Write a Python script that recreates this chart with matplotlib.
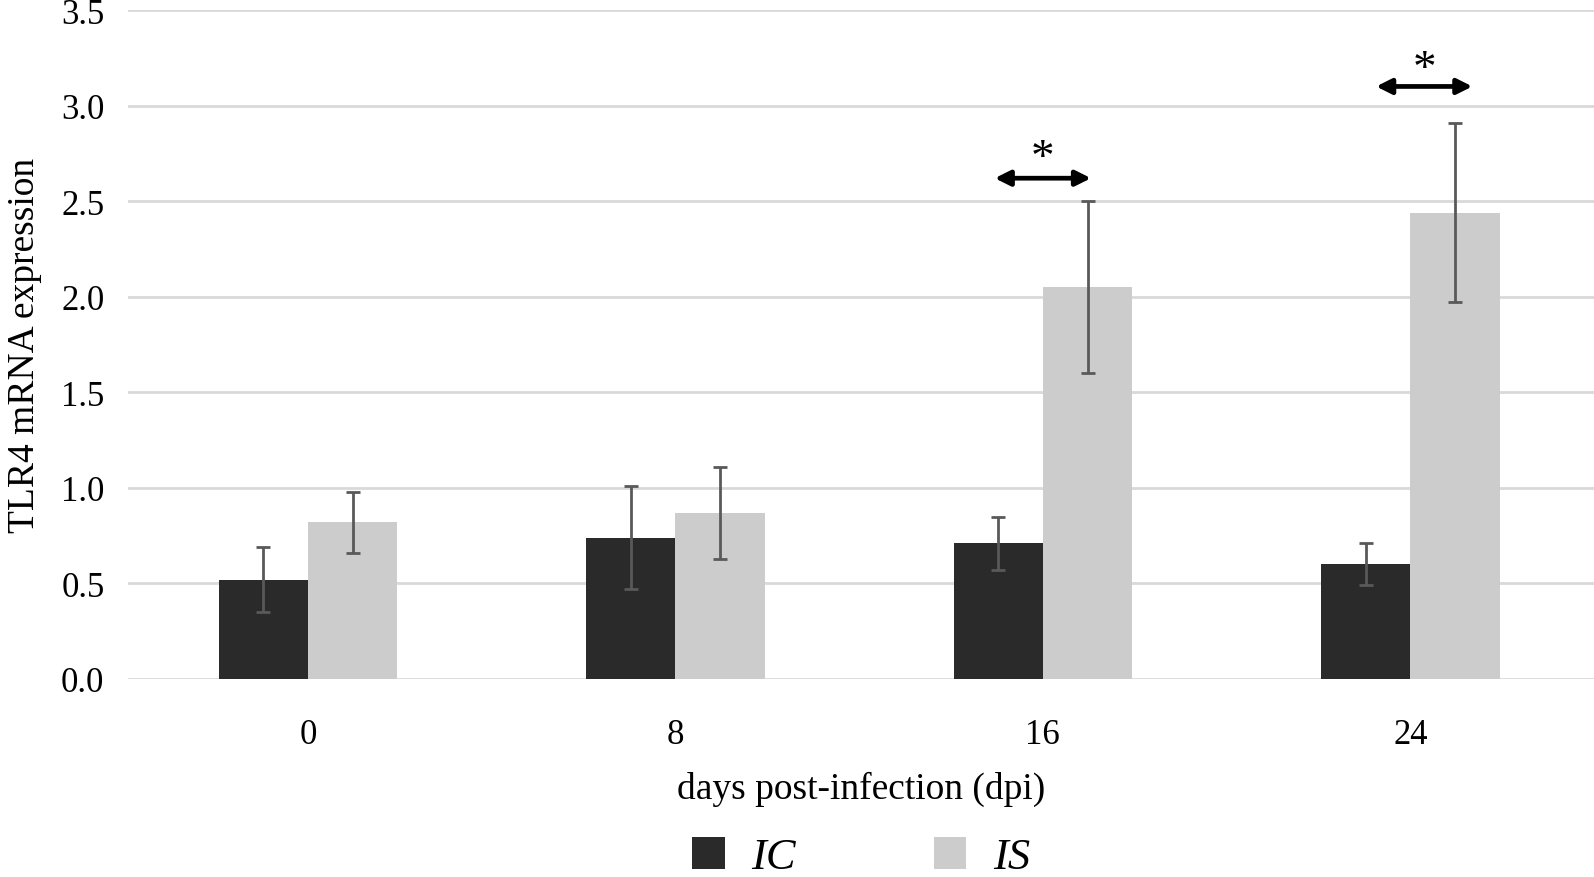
import matplotlib
matplotlib.use("Agg")
import matplotlib.pyplot as plt
import numpy as np
from matplotlib.patches import Patch

plt.rcParams['font.family'] = ['Liberation Serif', 'DejaVu Serif']

# Data
days = ["0", "8", "16", "24"]
ic_mean = [0.52, 0.74, 0.71, 0.60]
ic_err = [0.17, 0.27, 0.14, 0.11]
is_mean = [0.82, 0.87, 2.05, 2.44]
is_err = [0.16, 0.24, 0.45, 0.47]
series_names = ["IC", "IS"]
# significance annotations
sig_idx = [2, 3]
sig_arrow_y = [2.62, 3.10]
sig_star_y = [2.72, 3.19]

ic_color = "#2a2a2a"
is_color = "#cccccc"
err_color = "#595959"
grid_color = "#d9d9d9"

fig = plt.figure(figsize=(15.94, 8.78), dpi=100)
ax = fig.add_axes([128/1594, 1-680/878, 1-128/1594, (680-11)/878])

x = np.arange(len(days))
w = 0.243
ax.bar(x - w/2, ic_mean, w, color=ic_color, zorder=3)
ax.bar(x + w/2, is_mean, w, color=is_color, zorder=3)
ax.errorbar(x - w/2, ic_mean, yerr=ic_err, fmt='none', ecolor=err_color,
            elinewidth=2.0, capsize=5, capthick=2.0, zorder=4)
ax.errorbar(x + w/2, is_mean, yerr=is_err, fmt='none', ecolor=err_color,
            elinewidth=2.0, capsize=5, capthick=2.0, zorder=4)

# significance arrows
offsets = [0.0, 0.038]
for i, ay, sy, off in zip(sig_idx, sig_arrow_y, sig_star_y, offsets):
    cx = x[i] + off
    half = 0.131
    ax.annotate("", xy=(cx + half, ay), xytext=(cx - half, ay),
                arrowprops=dict(arrowstyle="<|-|>,head_length=0.9,head_width=0.45",
                                color="black", lw=3.4, shrinkA=0, shrinkB=0),
                zorder=5)
    ax.text(cx, sy, "*", ha="center", va="center", fontsize=34, color="black", zorder=5)

ax.set_xlim(-0.49, 3.5)
ax.set_ylim(0, 3.5)
ax.set_yticks(np.arange(0, 3.51, 0.5))
ax.set_yticklabels([f"{v:.1f}" for v in np.arange(0, 3.51, 0.5)])
ax.set_xticks(x)
ax.set_xticklabels(days)
ax.tick_params(axis='both', length=0, labelsize=25, colors='black')
ax.tick_params(axis='x', pad=28)
ax.tick_params(axis='y', pad=17)
ax.yaxis.grid(True, color=grid_color, linewidth=2.0, zorder=0)
ax.set_axisbelow(True)
for s in ax.spines.values():
    s.set_visible(False)

ax.set_xlabel("days post-infection (dpi)", fontsize=27, labelpad=14)
ax.set_ylabel("TLR4 mRNA expression", fontsize=27, labelpad=14)

handles = [Patch(facecolor=ic_color, edgecolor='none'),
           Patch(facecolor=is_color, edgecolor='none')]
leg = ax.legend(handles, series_names, loc='center', bbox_to_anchor=(0.5, -0.266),
                ncol=2, frameon=False, prop={'size': 32, 'style': 'italic'},
                handlelength=0.74, handleheight=0.74, handletextpad=0.6,
                columnspacing=3.1)

fig.savefig("out.png", dpi=100)
